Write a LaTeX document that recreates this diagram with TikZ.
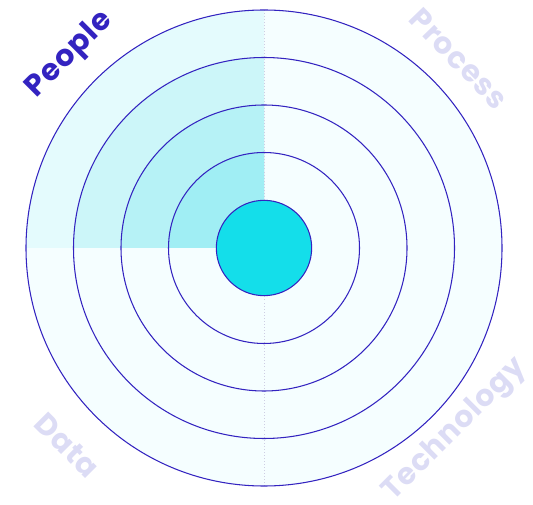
\documentclass[tikz,border=0pt]{standalone}
\usepackage{fontspec}
\setsansfont{Poppins}
\usepackage{xcolor}
\definecolor{ringblue}{HTML}{3323C0}
\definecolor{coreteal}{HTML}{14DEEA}
\definecolor{lavender}{HTML}{DCDCF5}
\definecolor{paleteal}{HTML}{F5FEFF}
\definecolor{tealA}{HTML}{E4FBFD}
\definecolor{tealB}{HTML}{CCF6F9}
\definecolor{tealC}{HTML}{B6F2F6}
\definecolor{tealD}{HTML}{A0EEF4}

\begin{document}
\begin{tikzpicture}[
  x=0.03cm, y=0.03cm,
  ring/.style={draw=ringblue, line width=0.9pt},
  lbl/.style={font=\sffamily\bfseries\fontsize{25.5}{26}\selectfont\addfontfeature{LetterSpace=3}, text=lavender, inner sep=0pt},
]
\useasboundingbox (0,0) rectangle (533,505);
\coordinate (c) at (264,257);
\fill[paleteal] (c) circle (238);
% people quadrant, darker towards the core
\foreach \r/\col in {238/tealA,190.5/tealB,143/tealC,95.5/tealD}
  \fill[\col] (c) -- ++(180:\r) arc (180:90:\r) -- cycle;
\draw[lavender!85!gray, dotted, line width=0.6pt] (c) ++(0,-238) -- ++(0,476);
\foreach \r in {238,190.5,143,95.5}
  \draw[ring] (c) circle (\r);
\node[circle, ring, fill=coreteal, minimum size=2.86cm, inner sep=0pt] (core) at (c) {};
% labels
\node[lbl, text=ringblue, rotate=45] (people) at ([shift={(-194,193)}]c) {People};
\node[lbl, rotate=-46] (process) at ([shift={(195,189)}]c) {Process};
\node[lbl, rotate=-45] (data) at ([shift={(-197,-197)}]c) {Data};
\node[lbl, rotate=45] (tech) at ([shift={(191,-182)}]c) {Technology};
\end{tikzpicture}
\end{document}
